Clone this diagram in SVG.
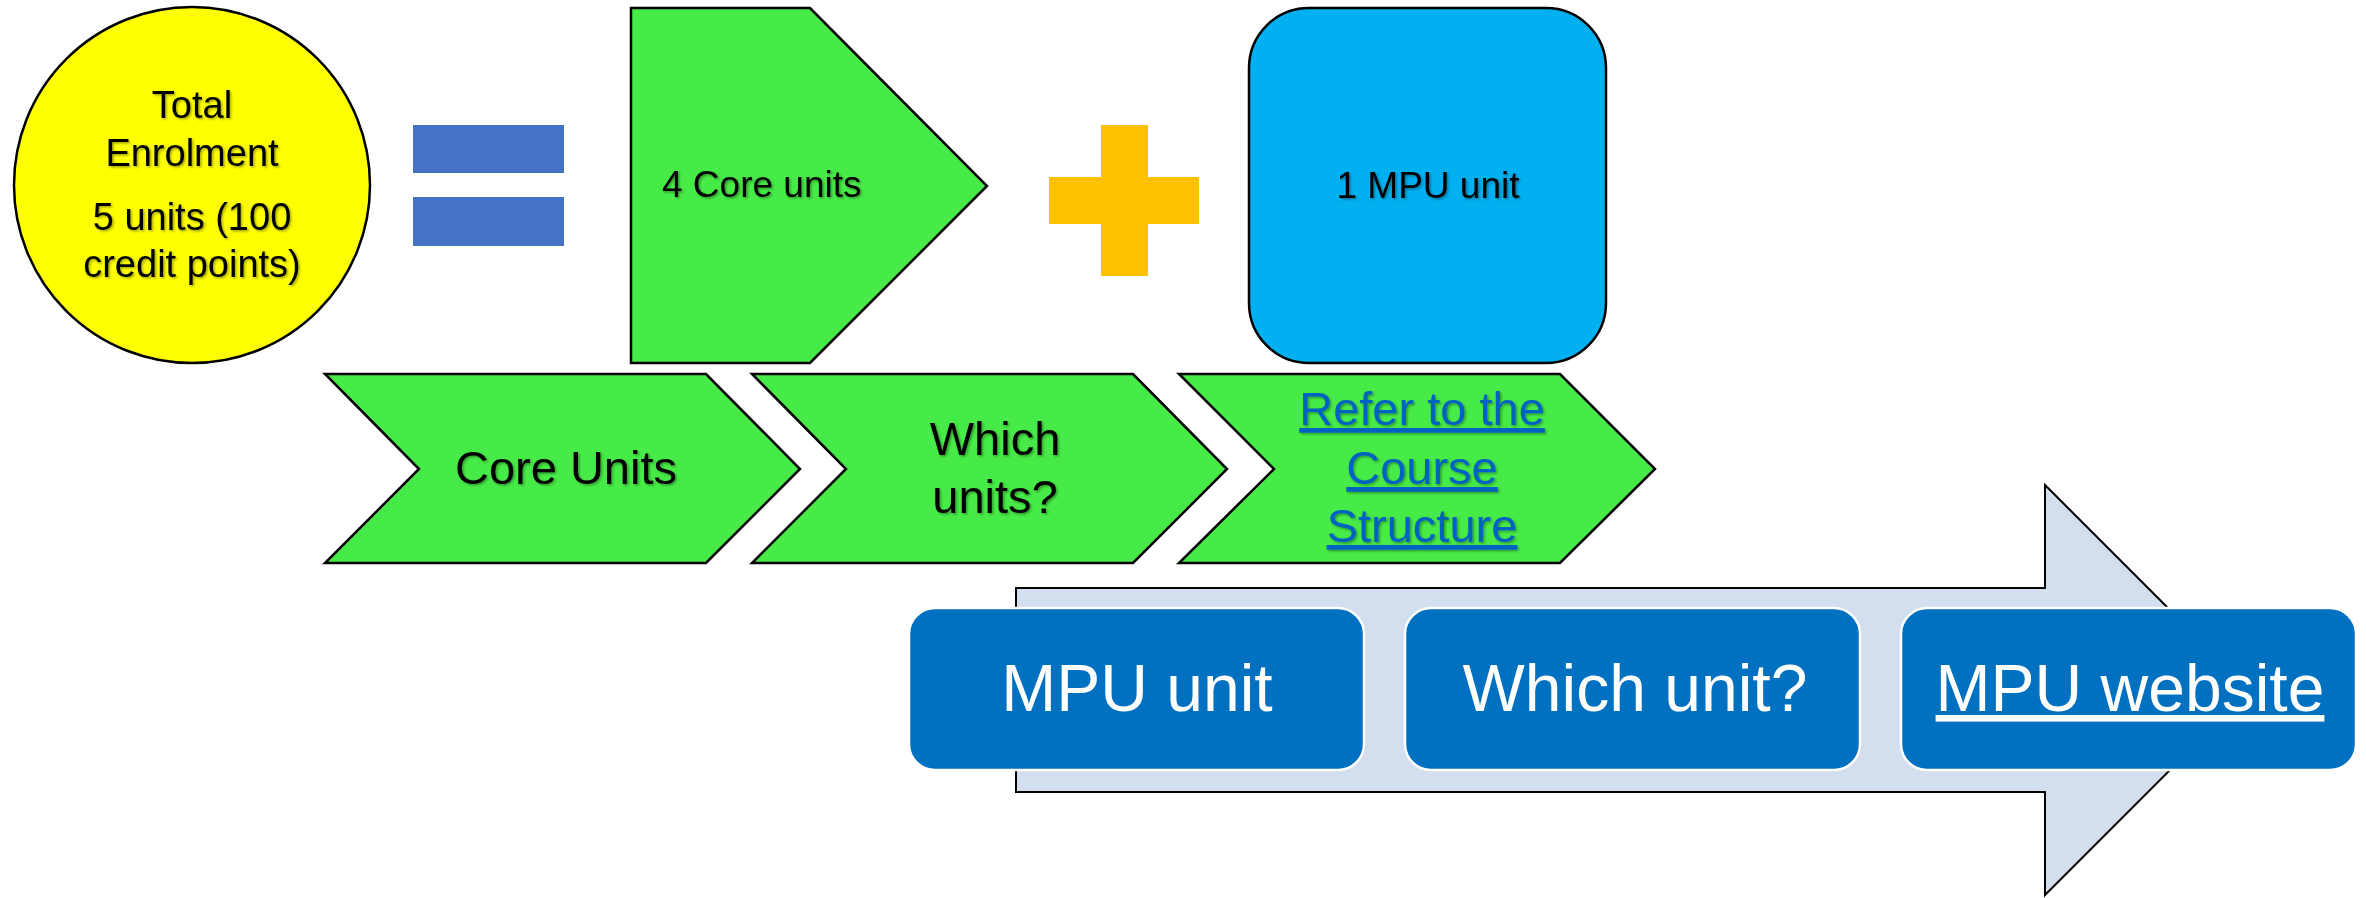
<svg xmlns="http://www.w3.org/2000/svg" width="2366" height="898" viewBox="0 0 2366 898">
<defs>
<filter id="ts" x="-10%" y="-20%" width="120%" height="140%">
<feDropShadow dx="1.5" dy="1.5" stdDeviation="1.2" flood-color="#000" flood-opacity="0.35"/>
</filter>
</defs>
<style>
.t{font-family:"Liberation Sans",Arial,sans-serif;fill:#000;}
.c{text-anchor:middle;}
.sh{filter:url(#ts);}
.green{fill:#47EB47;stroke:#000;stroke-width:2.5;stroke-linejoin:miter;}
.dbox{fill:#0070C0;stroke:#fff;stroke-width:2.5;}
.wt{font-family:"Liberation Sans",Arial,sans-serif;fill:#fff;font-size:66px;text-anchor:middle;}
.link{fill:#0563C1;text-decoration:underline;}
</style>
<rect width="2366" height="898" fill="#fff"/>

<g id="total-enrolment">
<ellipse cx="192" cy="185" rx="178" ry="178" fill="#FFFF00" stroke="#000" stroke-width="2.5"/>
<g class="t c sh" font-size="38">
<text x="192" y="118">Total</text>
<text x="192" y="166">Enrolment</text>
<text x="192" y="230">5 units (100</text>
<text x="192" y="277">credit points)</text>
</g>
</g>

<g id="equals" fill="#4472C4">
<rect x="413" y="125" width="151" height="48"/>
<rect x="413" y="197" width="151" height="49"/>
</g>

<g id="core-units-4">
<polygon class="green" points="631,8 810,8 987,186 810,363 631,363"/>
<text class="t sh" x="662" y="197" font-size="37">4 Core units</text>
</g>

<g id="plus" fill="#FFC000">
<rect x="1101" y="125" width="47" height="151"/>
<rect x="1049" y="177" width="150" height="47"/>
</g>

<g id="mpu-unit-1">
<rect x="1249" y="8" width="357" height="355" rx="60" ry="60" fill="#00B0F0" stroke="#000" stroke-width="2.5"/>
<text class="t c sh" x="1428" y="198" font-size="37">1 MPU unit</text>
</g>

<g id="chevron-core-units">
<polygon class="green" points="325,374 706,374 800,469 706,563 325,563 419,469"/>
<text class="t c sh" x="566" y="484" font-size="47">Core Units</text>
</g>

<g id="chevron-which-units">
<polygon class="green" points="752,374 1133,374 1227,469 1133,563 752,563 846,469"/>
<g class="t c sh" font-size="47">
<text x="995" y="455">Which</text>
<text x="995" y="513">units?</text>
</g>
</g>

<g id="chevron-course-structure">
<polygon class="green" points="1179,374 1560,374 1655,469 1560,563 1179,563 1274,469"/>
<g class="t c sh link" font-size="47">
<text x="1422" y="425">Refer to the</text>
<text x="1422" y="484">Course</text>
<text x="1422" y="542">Structure</text>
</g>
</g>

<g id="connectors"></g>

<g id="big-arrow">
<polygon points="1016,588 2045,588 2045,485 2250,690 2045,895 2045,792 1016,792" fill="#D3DEEF" stroke="#000" stroke-width="2"/>
</g>

<g id="mpu-unit">
<rect class="dbox" x="909" y="608" width="455" height="162" rx="26" ry="26"/>
<text class="wt" x="1137" y="711">MPU unit</text>
</g>

<g id="which-unit">
<rect class="dbox" x="1405" y="608" width="455" height="162" rx="26" ry="26"/>
<text class="wt" x="1635" y="711">Which unit?</text>
</g>

<g id="mpu-website">
<rect class="dbox" x="1901" y="608" width="455" height="162" rx="26" ry="26"/>
<text class="wt" x="2130" y="711" text-decoration="underline">MPU website</text>
</g>
</svg>
